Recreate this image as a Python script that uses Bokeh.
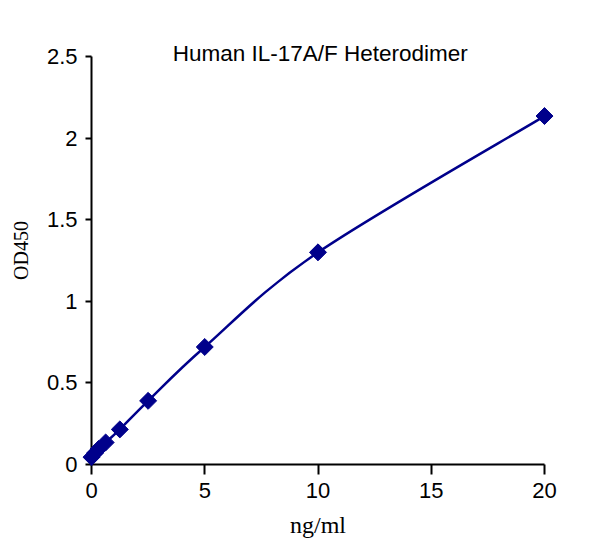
from bokeh.plotting import figure
from bokeh.models import Range1d, FixedTicker, Label, ColumnDataSource
from bokeh.embed import file_html
from bokeh.resources import INLINE
import math

# ---- data ----
conc = [0, 0.156, 0.313, 0.625, 1.25, 2.5, 5, 10, 20]
od = [0.045, 0.07, 0.095, 0.135, 0.215, 0.39, 0.72, 1.30, 2.135]
x_ticks = [0, 5, 10, 15, 20]
x_tick_labels = ["0", "5", "10", "15", "20"]
y_ticks = [0, 0.5, 1, 1.5, 2, 2.5]
y_tick_labels = ["0", "0.5", "1", "1.5", "2", "2.5"]
title_text = "Human IL-17A/F Heterodimer"
x_label = "ng/ml"
y_label = "OD450"

NAVY = "#00008B"

src = ColumnDataSource(dict(x=conc, y=od))

# smooth (Catmull-Rom style) curve through the measured points, drawn as bezier segments
n = len(conc)
x0, y0, x1, y1, cx0, cy0, cx1, cy1 = ([] for _ in range(8))
for i in range(n - 1):
    pm = i - 1 if i > 0 else i
    pp = i + 2 if i + 2 < n else i + 1
    x0.append(conc[i]); y0.append(od[i])
    x1.append(conc[i + 1]); y1.append(od[i + 1])
    cx0.append(conc[i] + (conc[i + 1] - conc[pm]) / 6)
    cy0.append(od[i] + (od[i + 1] - od[pm]) / 6)
    cx1.append(conc[i + 1] - (conc[pp] - conc[i]) / 6)
    cy1.append(od[i + 1] - (od[pp] - od[i]) / 6)
curve = ColumnDataSource(dict(x0=x0, y0=y0, x1=x1, y1=y1,
                              cx0=cx0, cy0=cy0, cx1=cx1, cy1=cy1))

p = figure(frame_width=453, frame_height=428,
           min_border_left=91, min_border_right=38,
           min_border_top=36, min_border_bottom=78,
           x_range=Range1d(0, 20), y_range=Range1d(0, 2.6225),
           output_backend="svg", toolbar_location=None)
p.outline_line_color = None
p.grid.visible = False
p.background_fill_color = "white"
p.border_fill_color = "white"

p.xaxis.ticker = FixedTicker(ticks=x_ticks)
p.yaxis.ticker = FixedTicker(ticks=y_ticks)
p.xaxis.major_label_overrides = dict(zip(x_ticks, x_tick_labels))
p.yaxis.major_label_overrides = dict(zip(y_ticks, y_tick_labels))
p.xaxis.bounds = (0, 20)
p.yaxis.bounds = (0, 2.5)

for ax in (p.xaxis, p.yaxis):
    ax.axis_line_width = 2
    ax.axis_line_color = "black"
    ax.major_tick_line_width = 2
    ax.major_tick_line_color = "black"
    ax.major_tick_in = 0
    ax.minor_tick_line_color = None
    ax.major_label_text_font = "Liberation Sans"
    ax.major_label_text_font_size = "22px"
    ax.major_label_text_color = "black"
    ax.axis_label_text_font = "Liberation Serif"
    ax.axis_label_text_font_style = "normal"
    ax.axis_label_text_color = "black"

p.xaxis.major_tick_out = 10
p.yaxis.major_tick_out = 6
p.xaxis.axis_label = x_label
p.yaxis.axis_label = y_label
p.xaxis.axis_label_text_font_size = "24px"
p.yaxis.axis_label_text_font_size = "20px"
p.xaxis.major_label_standoff = 8
p.yaxis.major_label_standoff = 8
p.xaxis.axis_label_standoff = 11
p.yaxis.axis_label_standoff = 12

p.bezier(x0="x0", y0="y0", x1="x1", y1="y1", cx0="cx0", cy0="cy0",
         cx1="cx1", cy1="cy1", source=curve, line_color=NAVY, line_width=2.5,
         level="overlay")

p.scatter(x="x", y="y", source=src, marker="square", size=12, angle=math.pi / 4,
          fill_color=NAVY, line_color=NAVY, level="overlay")

p.add_layout(Label(x=10.1, y=2.52, text=title_text, text_align="center",
                   text_baseline="middle", text_font="Liberation Sans",
                   text_font_size="22.5px", text_color="black"))

open("out.html", "w").write(file_html(p, INLINE))
